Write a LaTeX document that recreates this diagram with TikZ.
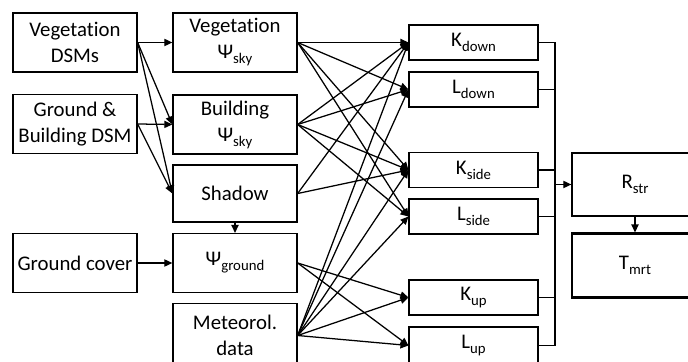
\documentclass[tikz,border=0pt]{standalone}
\usepackage{fontspec}
\setmainfont{Carlito}[Ligatures=NoCommon]
\usetikzlibrary{arrows.meta}
\newcommand{\lowtxt}[1]{\raisebox{-0.5ex}{\fontsize{10.5}{10.5}\selectfont #1}}

\begin{document}
\begin{tikzpicture}[x=0.025cm, y=0.025cm, line width=0.9pt,
    box/.style = {draw, minimum width=3.1cm, minimum height=1.47cm, align=center, inner sep=1pt, font=\fontsize{14.8}{18.5}\selectfont},
    flux/.style = {box, minimum width=3.22cm, minimum height=0.87cm},
    arr/.style = {-{Triangle[length=2mm,width=1.8mm]}}]
        \useasboundingbox (0,0) rectangle (688,361);
        \clip (0,0) rectangle (688,361);

        % inputs
        \node[box] (vegdsm) at (75,318.5) {Vegetation\\DSMs};
        \node[box] (gbdsm) at (75,237) {Ground \&\\Building DSM};
        \node[box] (cover) at (75,98) {Ground cover};

        % view factors, shadow, met data
        \node[box] (vegsky) at (235,318.5) {Vegetation\\Ψ\lowtxt{sky}};
        \node[box] (bldsky) at (235,236.5) {Building\\Ψ\lowtxt{sky}};
        \node[box, minimum height=1.42cm] (shadow) at (235,167.5) {Shadow};
        \node[box] (psignd) at (235,98) {Ψ\lowtxt{ground}};
        \node[box, minimum height=1.6cm] (met) at (235,25.5) {Meteorol.\\data};

        % radiation fluxes
        \node[flux] (kdown) at (473.5,318.5) {K\lowtxt{down}};
        \node[flux] (ldown) at (473.5,271.5) {L\lowtxt{down}};
        \node[flux] (kside) at (473.5,191) {K\lowtxt{side}};
        \node[flux] (lside) at (473.5,144.5) {L\lowtxt{side}};
        \node[flux] (kup) at (473.5,63.5) {K\lowtxt{up}};
        \node[flux, minimum height=0.92cm] (lup) at (473.5,15.5) {L\lowtxt{up}};

        \node[box, minimum width=3.15cm, minimum height=1.58cm] (rstr) at (635,176.5) {R\lowtxt{str}};
        \node[box, minimum width=3.15cm, minimum height=1.58cm, line width=2pt] (tmrt) at (635,95.5) {T\lowtxt{mrt}};
        \coordinate (bus) at (555,0);

        \draw[arr] (vegdsm.east) -- (vegsky.west);
        \draw[arr] (vegdsm.east) -- (bldsky.west);
        \draw[arr] (vegdsm.east) -- (shadow.west);
        \draw[arr] (gbdsm.east) -- (bldsky.west);
        \draw[arr] (gbdsm.east) -- (shadow.west);
        \draw[arr] (cover.east) -- (psignd.west);
        \draw[arr] (shadow.south) -- (psignd.north);

        \draw[arr] (vegsky.east) -- (kdown.west);
        \draw[arr] (vegsky.east) -- (ldown.west);
        \draw[arr] (vegsky.east) -- (kside.west);
        \draw[arr] (vegsky.east) -- (lside.west);
        \draw[arr] (bldsky.east) -- (kdown.west);
        \draw[arr] (bldsky.east) -- (ldown.west);
        \draw[arr] (bldsky.east) -- (kside.west);
        \draw[arr] (bldsky.east) -- (lside.west);
        \draw[arr] (shadow.east) -- (kdown.west);
        \draw[arr] (shadow.east) -- (kside.west);
        \draw[arr] (psignd.east) -- (kup.west);
        \draw[arr] (psignd.east) -- (lup.west);
        \draw[arr] (met.east) -- (kdown.west);
        \draw[arr] (met.east) -- (ldown.west);
        \draw[arr] (met.east) -- (kside.west);
        \draw[arr] (met.east) -- (lside.west);
        \draw[arr] (met.east) -- (kup.west);
        \draw[arr] (met.east) -- (lup.west);

        \draw (kdown.east) -- (kdown.east -| bus);
        \draw (ldown.east) -- (ldown.east -| bus);
        \draw (kside.east) -- (kside.east -| bus);
        \draw (lside.east) -- (lside.east -| bus);
        \draw (kup.east) -- (kup.east -| bus);
        \draw (lup.east) -- (lup.east -| bus);
        \draw (kdown.east -| bus) -- (lup.east -| bus);
        \draw[arr] (rstr.west -| bus) -- (rstr.west);
        \draw[arr] (rstr.south) -- (tmrt.north);
    \end{tikzpicture}
\end{document}
